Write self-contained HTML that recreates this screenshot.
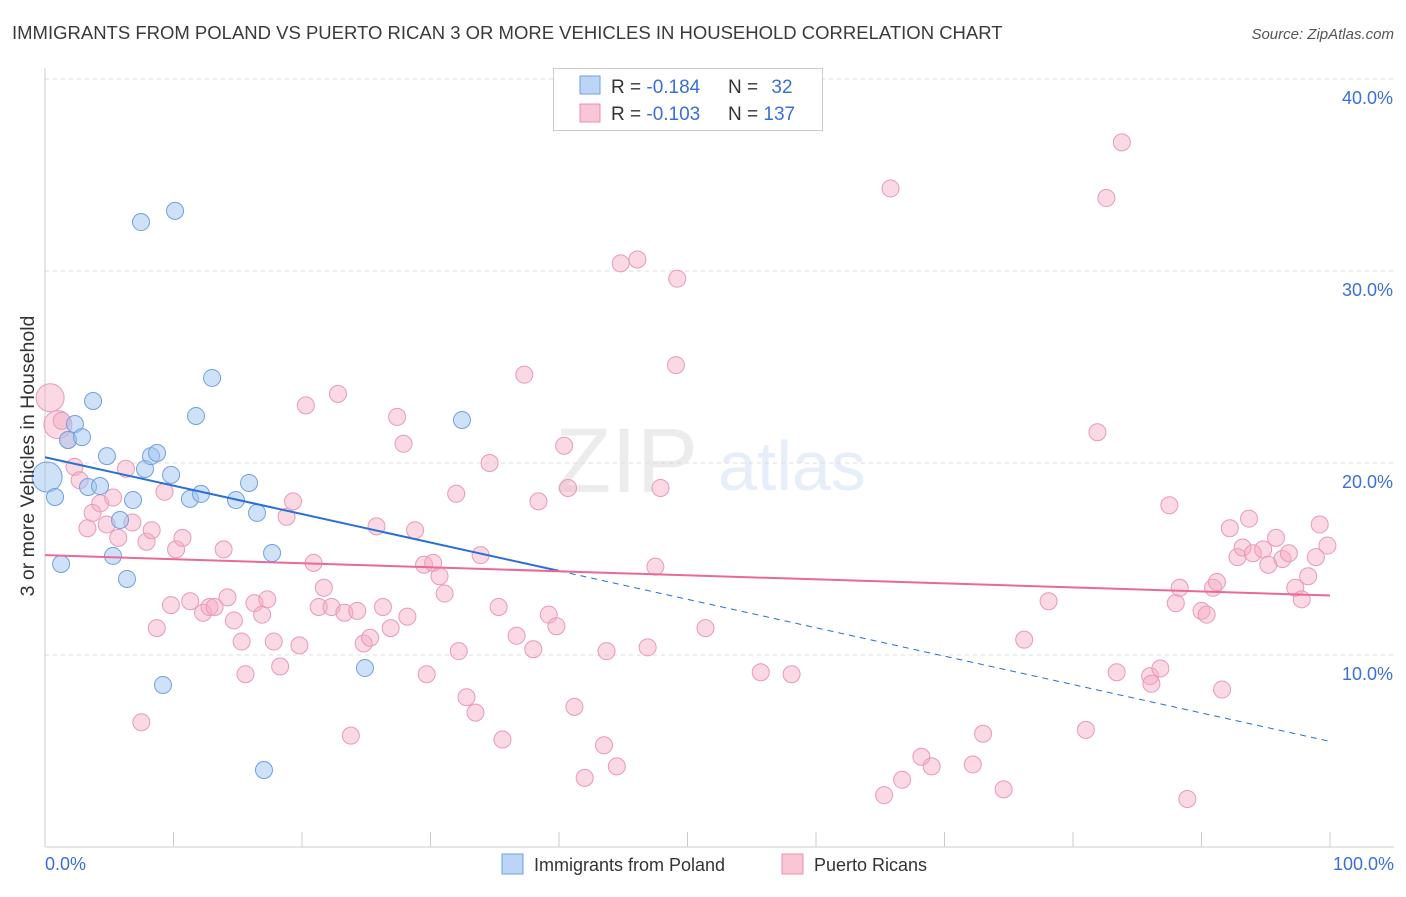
<!DOCTYPE html>
<html><head><meta charset="utf-8"><style>
body{margin:0;background:#fff;font-family:"Liberation Sans",sans-serif;}
svg text{font-family:"Liberation Sans",sans-serif;}
</style></head><body>
<svg id="chart" width="1406" height="892" xmlns="http://www.w3.org/2000/svg">
<text x="12" y="39" font-size="18.5" fill="#3a3a3a">IMMIGRANTS FROM POLAND VS PUERTO RICAN 3 OR MORE VEHICLES IN HOUSEHOLD CORRELATION CHART</text>
<text x="1394" y="39" font-size="15" fill="#555" font-style="italic" text-anchor="end">Source: ZipAtlas.com</text>
<g opacity="0.13">
<text x="555" y="492" font-size="92" font-family="Liberation Serif" fill="#777">ZIP</text>
<text x="718" y="490" font-size="70" fill="#4a84d8">atlas</text>
</g>
<g id="grid"></g>
<g id="axes"></g>
<g id="pinkg"></g>
<g id="blueg"></g>
<g id="lines"></g>
<g>
<rect x="553.5" y="68.5" width="269" height="62" fill="#fff" stroke="#ccc"/>
<rect x="580" y="76" width="20" height="18" fill="#bcd4f5" stroke="#6fa0e0"/>
<rect x="580" y="104" width="20" height="18" fill="#f9c6d5" stroke="#e890ad"/>
<text x="611" y="93" font-size="19" fill="#333">R = <tspan fill="#3a6fd8">-0.184</tspan></text>
<text x="728" y="93" font-size="19" fill="#333">N = <tspan fill="#3a6fd8" dx="8">32</tspan></text>
<text x="611" y="120" font-size="19" fill="#333">R = <tspan fill="#3a6fd8">-0.103</tspan></text>
<text x="728" y="120" font-size="19" fill="#333">N = <tspan fill="#3a6fd8">137</tspan></text>
</g>
<g>
<rect x="502" y="854" width="21" height="20" fill="#bcd4f5" stroke="#6fa0e0"/>
<text x="534" y="871" font-size="18" fill="#333">Immigrants from Poland</text>
<rect x="782" y="854" width="21" height="20" fill="#f9c6d5" stroke="#e890ad"/>
<text x="814" y="871" font-size="18" fill="#333">Puerto Ricans</text>
</g>
<text x="45" y="870" font-size="18" fill="#3a6fd8">0.0%</text>
<text x="1394" y="870" font-size="18" fill="#3a6fd8" text-anchor="end">100.0%</text>
<text transform="translate(34,456) rotate(-90)" font-size="19.5" fill="#333" text-anchor="middle">3 or more Vehicles in Household</text>
</svg>
<script>
const yTicks=[10,20,30,40];
const yTickLabels=["10.0%","20.0%","30.0%","40.0%"];
const xTicks=[0,10,20,30,40,50,60,70,80,90,100];
const blueX=[0.16,0.78,1.25,1.79,2.33,2.88,3.35,3.74,4.28,4.82,5.29,5.84,6.38,6.85,7.47,7.78,8.25,8.72,9.18,9.81,10.12,11.28,11.75,12.14,13.0,14.86,15.88,16.5,17.04,17.67,24.9,32.45];
const blueY=[19.27,18.23,14.74,21.2,22.03,21.35,18.75,23.23,18.8,20.36,15.16,17.03,13.96,18.07,32.55,19.69,20.36,20.52,8.44,19.38,33.13,18.13,22.45,18.39,24.43,18.07,18.96,17.4,4.01,15.31,9.32,22.24];
const pinkX=[0.4,1.0,1.3,1.8,2.3,2.7,3.3,3.7,4.3,4.8,5.3,5.7,6.3,6.8,7.5,7.9,8.3,8.7,9.3,9.8,10.2,10.7,11.3,12.3,12.8,13.2,13.9,14.2,14.7,15.3,15.6,16.3,16.9,17.3,17.8,18.3,18.8,19.3,19.8,20.3,20.9,21.3,21.7,22.3,22.8,23.3,23.8,24.3,24.8,25.3,25.8,26.3,26.9,27.4,27.9,28.2,28.8,29.5,29.7,30.2,30.7,31.1,32.0,32.2,32.8,33.5,33.9,34.6,35.3,35.6,36.7,37.3,38.0,38.4,39.2,39.8,40.4,40.7,41.2,42.0,43.5,43.7,44.5,44.8,46.1,46.9,47.5,47.9,49.1,49.2,51.4,55.7,58.1,65.3,65.8,66.7,68.2,69.0,72.2,73.0,74.6,76.2,78.1,81.0,81.9,82.6,83.4,83.8,86.0,86.1,86.8,87.5,88.0,88.3,88.9,90.0,90.4,90.9,91.2,91.6,92.2,92.8,93.2,93.7,94.0,94.8,95.2,95.8,96.3,96.8,97.3,97.8,98.3,98.9,99.2,99.8];
const pinkY=[23.4,22.0,22.2,21.2,19.8,19.1,16.6,17.4,17.9,16.8,18.2,16.1,19.7,16.9,6.5,15.9,16.5,11.4,18.5,12.6,15.5,16.1,12.8,12.2,12.5,12.5,15.5,13.0,11.8,10.7,9.0,12.7,12.1,12.9,10.7,9.4,17.2,18.0,10.5,23.0,14.8,12.5,13.5,12.5,23.6,12.2,5.8,12.3,10.6,10.9,16.7,12.5,11.4,22.4,21.0,12.0,16.5,14.7,9.0,14.8,14.1,13.2,18.4,10.2,7.8,7.0,15.2,20.0,12.5,5.6,11.0,24.6,10.3,18.0,12.1,11.5,20.9,18.7,7.3,3.6,5.3,10.2,4.2,30.4,30.6,10.4,14.6,18.7,25.1,29.6,11.4,9.1,9.0,2.7,34.3,3.5,4.7,4.2,4.3,5.9,3.0,10.8,12.8,6.1,21.6,33.8,9.1,36.7,8.9,8.5,9.3,17.8,12.7,13.5,2.5,12.3,12.1,13.5,13.8,8.2,16.6,15.1,15.6,17.1,15.3,15.5,14.7,16.1,15.0,15.3,13.5,12.9,14.1,15.1,16.8,15.7];
const blueTrend=[20.3,-0.148];
const pinkTrend=[15.2,-0.021];
const blueSolidEnd=40;

const NS="http://www.w3.org/2000/svg";
const xs=v=>45+v*12.85;
const ys=v=>847-v*19.2;
function mk(tag,attrs,parent){const e=document.createElementNS(NS,tag);for(const k in attrs)e.setAttribute(k,attrs[k]);parent.appendChild(e);return e;}
const grid=document.getElementById('grid'),axes=document.getElementById('axes');
yTicks.forEach((t,i)=>{
  const l=mk('line',{x1:45,x2:1394,y1:ys(t),y2:ys(t),stroke:'#ddd','stroke-dasharray':'4,4'},grid);
  
  
  const tx=mk('text',{x:1393,y:ys(t)+25,'font-size':18,fill:'#3a6fd8','text-anchor':'end'},grid);
  tx.textContent=yTickLabels[i];
  
  
});
const ax=mk('line',{x1:45,x2:45,y1:68,y2:847,stroke:'#ccc'},axes);


const bx=mk('line',{x1:45,x2:1394,y1:847,y2:847,stroke:'#ccc'},axes);


xTicks.forEach(t=>{
  const l=mk('line',{x1:xs(t),x2:xs(t),y1:832,y2:847,stroke:'#ccc'},axes);
  
  
});
const pg=document.getElementById('pinkg');
pinkX.forEach((x,i)=>{
  const r=i<2?14:8.5;
  const c=mk('circle',{cx:xs(x),cy:ys(pinkY[i]),r:r,fill:'rgba(245,170,195,0.45)',stroke:'#e99ab4','stroke-width':1},pg);
  
  
});
const bg=document.getElementById('blueg');
blueX.forEach((x,i)=>{
  const r=i===0?15:8.5;
  const c=mk('circle',{cx:xs(x),cy:ys(blueY[i]),r:r,fill:'rgba(160,195,240,0.5)',stroke:'#6fa0e0','stroke-width':1},bg);
  
  
});
const lg=document.getElementById('lines');
const f=(t,x)=>t[0]+t[1]*x;
const b1=mk('line',{x1:xs(0),y1:ys(f(blueTrend,0)),x2:xs(blueSolidEnd),y2:ys(f(blueTrend,blueSolidEnd)),stroke:'#2a6fd6','stroke-width':2},lg);


const b2=mk('line',{x1:xs(blueSolidEnd),y1:ys(f(blueTrend,blueSolidEnd)),x2:xs(100),y2:ys(f(blueTrend,100)),stroke:'#2a6fd6','stroke-width':1,'stroke-dasharray':'6,5'},lg);


const p1=mk('line',{x1:xs(0),y1:ys(f(pinkTrend,0)),x2:xs(100),y2:ys(f(pinkTrend,100)),stroke:'#e8699a','stroke-width':2},lg);


</script>
</body></html>
